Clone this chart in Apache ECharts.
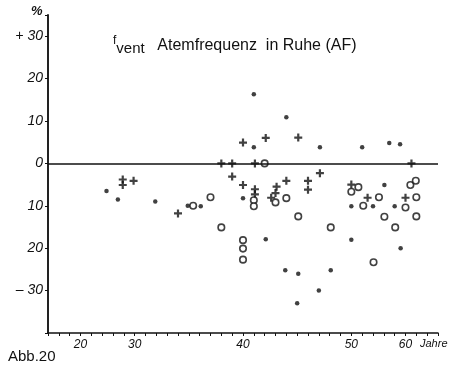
<!DOCTYPE html>
<html>
<head>
<meta charset="utf-8">
<script src="https://cdn.jsdelivr.net/npm/echarts@6/dist/echarts.min.js"></script>
<style>
html,body{margin:0;padding:0;background:#fff;}
#chart{width:469px;height:371px;}
</style>
</head>
<body>
<div id="chart"></div>
<script>
// ---- data (age in years, change in %) ----
var dotAges    = [24.8, 26.9, 31.9, 34.9, 36.1, 40.0, 41.0, 41.0, 42.1, 43.9, 44.0, 45.1, 45.0, 47.0, 47.1, 48.1, 50.0, 50.0, 52.0, 54.0, 56.1, 57.0, 58.0, 59.1, 59.0];
var dotValues  = [-6.5, -8.5, -9.0, -10.0, -10.1, -8.2, 16.3, 3.8, -17.9, -25.2, 10.9, -26.0, -33.0, -30.0, 3.8, -25.2, -10.1, -18.0, 3.8, -10.1, -5.1, 4.8, -10.1, -20.0, 4.5];

var plusAges   = [27.8, 27.8, 29.8, 34.0, 38.0, 39.0, 39.0, 40.0, 40.0, 41.1, 41.1, 41.1, 42.1, 43.1, 43.0, 42.6, 44.0, 45.1, 46.0, 46.0, 47.1, 50.0, 53.0, 60.0, 61.1];
var plusValues = [-3.8, -5.1, -4.1, -11.8, 0.0, 0.0, -3.1, -5.1, 4.9, 0.0, -6.1, -7.3, 6.0, -5.5, -7.0, -8.1, -4.1, 6.1, -4.1, -6.2, -2.3, -5.0, -8.1, -8.1, 0.0];

var circleAges   = [35.4, 37.0, 38.0, 42.0, 41.0, 41.0, 40.0, 40.0, 40.0, 43.0, 44.0, 45.1, 48.1, 50.0, 51.3, 52.2, 54.1, 55.1, 56.1, 58.1, 60.0, 60.9, 61.9, 62.0, 62.0];
var circleValues = [-10.0, -8.0, -15.1, 0.0, -8.7, -10.1, -18.1, -20.1, -22.7, -9.2, -8.2, -12.5, -15.1, -6.7, -5.6, -10.0, -23.3, -8.0, -12.6, -15.1, -10.4, -5.1, -4.1, -8.0, -12.5];

// tick labels
var xTickAges  = [20, 30, 40, 50, 60];
var yTickVals  = [30, 20, 10, 0, -10, -20, -30];
var yTickTexts = ['+ 30', '20', '10', '0', '10', '20', '\u2013 30'];

// the figure's age axis is stretched between 30 and 50 years (half scale outside)
function ageToAxis(a) {
  if (a < 30) return 30 - (30 - a) / 2;
  if (a > 50) return 50 + (a - 50) / 2;
  return a;
}
function axisToAge(v) {
  if (v < 30) return 30 - (30 - v) * 2;
  if (v > 50) return 50 + (v - 50) * 2;
  return v;
}
function pairs(xs, ys) {
  return xs.map(function (x, i) { return [ageToAxis(x), ys[i]]; });
}

var plusPath = 'path://M-1.1,-4L1.1,-4L1.1,-1.1L4,-1.1L4,1.1L1.1,1.1L1.1,4L-1.1,4L-1.1,1.1L-4,1.1L-4,-1.1L-1.1,-1.1Z';

var chart = echarts.init(document.getElementById('chart'));
chart.setOption({
  animation: false,
  backgroundColor: '#fff',
  grid: { left: 48, right: 31, top: 15, bottom: 38 },
  xAxis: {
    type: 'value', min: 22, max: 58, interval: 1,
    axisLine: { show: true, onZero: false, lineStyle: { color: '#111', width: 1.5 } },
    axisTick: { show: true, length: 3, lineStyle: { color: '#111', width: 1 } },
    splitLine: { show: false },
    axisLabel: {
      color: '#111', fontSize: 12, fontStyle: 'italic', fontFamily: 'Liberation Sans', margin: 6,
      formatter: function (v) {
        var a = Math.round(axisToAge(v) * 100) / 100;
        var pos = Math.abs(v - Math.round(v)) < 1e-6;
        return (pos && xTickAges.indexOf(a) >= 0) ? String(a) : '';
      }
    }
  },
  yAxis: {
    type: 'value', min: -40, max: 35, interval: 10,
    axisLine: { show: true, onZero: false, lineStyle: { color: '#222', width: 2 } },
    axisTick: { show: true, length: 3, lineStyle: { color: '#111', width: 1 } },
    splitLine: { show: false },
    axisLabel: {
      color: '#111', fontSize: 14, fontStyle: 'italic', fontFamily: 'Liberation Sans', margin: 5,
      formatter: function (v) {
        var i = yTickVals.indexOf(v);
        return i >= 0 ? yTickTexts[i] : '';
      }
    }
  },
  series: [
    {
      type: 'scatter', name: 'dots', data: pairs(dotAges, dotValues),
      symbol: 'circle', symbolSize: 4.5, itemStyle: { color: '#111' },
      markLine: {
        silent: true, symbol: ['none', 'none'], label: { show: false },
        lineStyle: { color: '#111', width: 1.5, type: 'solid' },
        data: [{ yAxis: 0 }]
      }
    },
    {
      type: 'scatter', name: 'plus', data: pairs(plusAges, plusValues),
      symbol: plusPath, symbolSize: 8, itemStyle: { color: '#111' }
    },
    {
      type: 'scatter', name: 'circles', data: pairs(circleAges, circleValues),
      symbol: 'circle', symbolSize: 6.5,
      itemStyle: { color: '#fff', borderColor: '#111', borderWidth: 1.6 }
    }
  ],
  graphic: [
    { type: 'text', left: 31, top: 5,
      style: { text: '%', fill: '#111', font: 'italic bold 13px "Liberation Sans"' } },
    { type: 'text', left: 113, top: 35,
      style: {
        text: '{f|f}{v|vent}  {t|Atemfrequenz  in Ruhe (AF)}',
        rich: {
          f: { fontSize: 12, fontFamily: 'Liberation Sans', fill: '#111', verticalAlign: 'top', padding: [0, 0, 8, 0] },
          v: { fontSize: 15, fontFamily: 'Liberation Sans', fill: '#111', padding: [6, 0, 0, 0] },
          t: { fontSize: 16, fontFamily: 'Liberation Sans', fill: '#111', padding: [0, 0, 0, 6] }
        }
      } },
    { type: 'text', left: 420, top: 338,
      style: { text: 'Jahre', fill: '#111', font: 'italic 11px "Liberation Sans"' } },
    { type: 'text', left: 8, top: 349,
      style: { text: 'Abb.20', fill: '#111', font: '15px "Liberation Sans"' } }
  ]
});
</script>
</body>
</html>
